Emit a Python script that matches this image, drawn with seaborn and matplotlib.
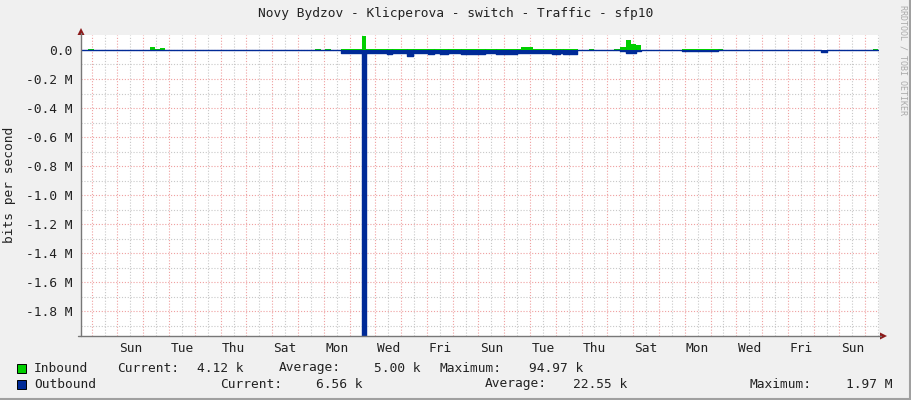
import numpy as np
import seaborn as sns
import matplotlib.pyplot as plt
from matplotlib.lines import Line2D
from matplotlib.patches import Rectangle, Polygon

# --- data (time in days from left edge of the graph, values in bits/s) ---
DAYS = 30.95

in_start = [0.27, 2.68, 2.87, 3.06, 9.08, 9.46, 10.09, 10.88, 11.07, 17.07, 17.53,
            19.71, 20.68, 20.91, 21.14, 21.33, 21.53, 23.31, 30.72]
in_end = [0.50, 2.87, 3.06, 3.26, 9.31, 9.70, 10.88, 11.07, 17.07, 17.53, 19.28,
          19.90, 20.91, 21.14, 21.33, 21.53, 21.72, 24.90, 30.92]
in_kbps = [9, 20, 9, 14, 9, 9, 9, 95, 9, 20, 9, 9, 9, 20, 71, 41, 32, 9, 9]

out_start = [10.09, 10.88, 11.07, 11.87, 12.06, 12.65, 12.88, 13.46, 13.69, 13.93,
             14.24, 14.74, 15.67, 16.10, 16.91, 18.27, 18.58, 18.70, 20.91, 21.14,
             21.53, 23.31, 28.70]
out_end = [10.88, 11.07, 11.87, 12.06, 12.65, 12.88, 13.46, 13.69, 13.93, 14.24,
           14.74, 15.67, 16.10, 16.91, 18.27, 18.58, 18.70, 19.24, 21.14, 21.53,
           21.72, 24.71, 28.94]
out_kbps = [18, 1970, 18, 25, 18, 39, 18, 25, 18, 25, 18, 25, 18, 25, 18, 25, 18, 25,
            10, 18, 10, 10, 12]

base_kbps = 3

day_labels = ["Sun", "Tue", "Thu", "Sat", "Mon", "Wed", "Fri", "Sun",
              "Tue", "Thu", "Sat", "Mon", "Wed", "Fri", "Sun"]
first_midnight = 0.415

y_ticks = [0, -0.2e6, -0.4e6, -0.6e6, -0.8e6, -1.0e6, -1.2e6, -1.4e6, -1.6e6, -1.8e6]
y_labels = ["0.0", "-0.2 M", "-0.4 M", "-0.6 M", "-0.8 M", "-1.0 M",
            "-1.2 M", "-1.4 M", "-1.6 M", "-1.8 M"]

title = "Novy Bydzov - Klicperova - switch - Traffic - sfp10"
legend_rows = [
    ("Inbound", "#00CF00", [("Current:", 117, "4.12 k", 244), ("Average:", 279, "5.00 k", 421),
                            ("Maximum:", 440, "94.97 k", 583)]),
    ("Outbound", "#002A97", [("Current:", 220, "6.56 k", 362), ("Average:", 485, "22.55 k", 627),
                             ("Maximum:", 749, "1.97 M", 893)]),
]


def steps(starts, ends, vals, base):
    x, y = [0.0], [base]
    for s, e, v in zip(starts, ends, vals):
        x += [s, e]
        y += [v, base]
    x.append(DAYS)
    y.append(base)
    return np.array(x), np.array(y) * 1000.0


W, H = 911, 400


def fx(px):
    return px / W


def fy(py):
    return 1 - py / H


sns.set_style("white")
plt.rcParams['font.family'] = ['DejaVu Sans Mono']
FS = 9.3
TXT = "#222222"

fig = plt.figure(figsize=(W / 100, H / 100), dpi=100)
fig.patch.set_facecolor("#F0F0F0")
ax = fig.add_axes([fx(81), fy(336), 798 / W, 301 / H])
ax.set_facecolor("white")

# grid
for k in range(int(DAYS) + 1):
    d = first_midnight + k
    if d < DAYS:
        ax.axvline(d, color="#EFA0A0", lw=0.8, ls=(0, (1, 1.6)), zorder=1)
    if d + 0.5 < DAYS:
        ax.axvline(d + 0.5, color="#C8C8C8", lw=0.8, ls=(0, (1, 1.6)), zorder=1)
for v in y_ticks:
    ax.axhline(v, color="#EFA0A0", lw=0.8, ls=(0, (1, 1.6)), zorder=1)
    if v - 0.1e6 > -1.97e6:
        ax.axhline(v - 0.1e6, color="#C8C8C8", lw=0.8, ls=(0, (1, 1.6)), zorder=1)

xi, yi = steps(in_start, in_end, in_kbps, base_kbps)
xo, yo = steps(out_start, out_end, out_kbps, base_kbps)
ax.fill_between(xi, yi, step="post", color="#00CF00", lw=0, zorder=2)
ax.fill_between(xo, -yo, step="post", color="#002A97", lw=0, zorder=3)
sns.lineplot(x=xo, y=-yo, drawstyle="steps-post", color="#002A97", lw=1.0,
             ax=ax, zorder=4, estimator=None, sort=False)

ax.set_xlim(0, DAYS)
ax.set_ylim(-1.972e6, 0.1034e6)
ax.set_xticks([first_midnight + 1.5 + 2 * i for i in range(len(day_labels))])
ax.set_xticklabels(day_labels)
ax.set_yticks(y_ticks)
ax.set_yticklabels(y_labels)
ax.tick_params(axis="x", length=0, pad=4.5, labelsize=FS, labelcolor=TXT)
ax.tick_params(axis="y", length=2.5, width=0.8, color="#EFA0A0", pad=3.5,
               labelsize=FS, labelcolor=TXT)
for s in ax.spines.values():
    s.set_visible(False)

# axes with arrows
axc = "#777777"
fig.add_artist(Line2D([fx(81), fx(81)], [fy(336), fy(33)], color=axc, lw=1.0))
fig.add_artist(Line2D([fx(78), fx(881)], [fy(336), fy(336)], color=axc, lw=1.0))
arr = "#8B1A1A"
fig.add_artist(Polygon([[fx(77.5), fy(35)], [fx(84.5), fy(35)], [fx(81), fy(28)]],
                       closed=True, color=arr, lw=0))
fig.add_artist(Polygon([[fx(880), fy(332.5)], [fx(880), fy(339.5)], [fx(887), fy(336)]],
                       closed=True, color=arr, lw=0))

# texts
fig.text(fx(456), fy(14), title, ha="center", va="center", fontsize=FS, color=TXT)
fig.text(fx(10), fy(185), "bits per second", rotation=90, ha="center", va="center",
         fontsize=FS, color=TXT)
fig.text(fx(903), fy(60), "RRDTOOL / TOBI OETIKER", rotation=270, ha="center",
         va="center", fontsize=6, color="#AAAAAA")

for i, (name, col, items) in enumerate(legend_rows):
    yc = 368 + 16 * i
    fig.add_artist(Rectangle((fx(17), fy(yc + 5)), 9 / W, 9 / H, facecolor=col,
                             edgecolor="#000000", lw=0.7))
    fig.text(fx(34), fy(yc), name, ha="left", va="center", fontsize=FS, color=TXT)
    for lab, lx, val, vx in items:
        fig.text(fx(lx), fy(yc), lab, ha="left", va="center", fontsize=FS, color=TXT)
        fig.text(fx(vx), fy(yc), val, ha="right", va="center", fontsize=FS, color=TXT)

# frame shadow
fig.add_artist(Line2D([0, 1], [fy(398.5), fy(398.5)], color="#A0A0A0", lw=1.5))
fig.add_artist(Line2D([fx(909.5), fx(909.5)], [0, 1], color="#A0A0A0", lw=1.5))

fig.savefig("out.png", dpi=100, facecolor=fig.get_facecolor())
